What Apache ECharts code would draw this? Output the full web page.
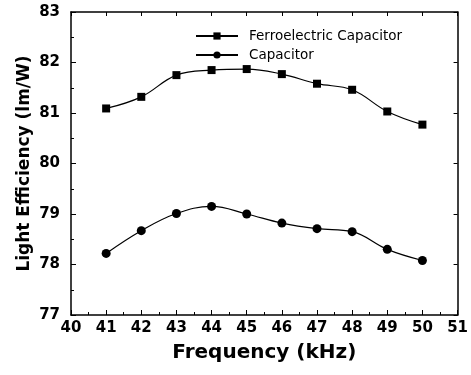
<!DOCTYPE html>
<html><head><meta charset="utf-8">
<script src="https://cdn.jsdelivr.net/npm/echarts@6/dist/echarts.min.js"></script>
<style>html,body{margin:0;padding:0;background:#fff}#c{width:471px;height:375px}</style>
</head><body><div id="c"></div>
<script>
const frequencies = [41, 42, 43, 44, 45, 46, 47, 48, 49, 50];
const ferroelectric = [81.09, 81.32, 81.75, 81.85, 81.87, 81.77, 81.58, 81.46, 81.03, 80.77];
const capacitor = [78.22, 78.67, 79.01, 79.15, 79.00, 78.82, 78.71, 78.65, 78.30, 78.08];
const seriesNames = ['Ferroelectric Capacitor', 'Capacitor'];

const F = 'DejaVu Sans';
const chart = echarts.init(document.getElementById('c'));
const axLine = {show: true, lineStyle: {color: '#000', width: 1.5}};
chart.setOption({
  animation: false,
  backgroundColor: '#fff',
  grid: {left: 71, right: 9, top: 12, bottom: 60},
  legend: {
    orient: 'vertical', left: 190, top: 24, itemWidth: 42, itemHeight: 9, itemGap: 5,
    textStyle: {fontFamily: F, fontSize: 13.5, color: '#000', padding: [0, 0, 0, 6]},
    data: seriesNames
  },
  xAxis: [{
    type: 'value', min: 40, max: 51, interval: 1,
    name: 'Frequency (kHz)', nameLocation: 'middle', nameGap: 28, nameMoveOverlap: false,
    nameTextStyle: {fontFamily: F, fontWeight: 'bold', fontSize: 20, color: '#000'},
    axisLine: axLine,
    axisTick: {inside: true, length: 5, lineStyle: {color: '#000', width: 1}},
    minorTick: {show: true, splitNumber: 2, length: 3, lineStyle: {color: '#000'}},
    axisLabel: {fontFamily: F, fontWeight: 'bold', fontSize: 15, color: '#000', margin: 6},
    splitLine: {show: false}
  }, {
    type: 'value', min: 40, max: 51, interval: 1, position: 'top',
    axisLine: axLine, axisTick: {inside: true, length: 4, lineStyle: {color: '#000'}},
    axisLabel: {show: false}, splitLine: {show: false}
  }],
  yAxis: [{
    type: 'value', min: 77, max: 83, interval: 1,
    name: 'Light Efficiency (lm/W)', nameLocation: 'middle', nameGap: 38, nameMoveOverlap: false,
    nameTextStyle: {fontFamily: F, fontWeight: 'bold', fontSize: 17, color: '#000'},
    axisLine: axLine,
    axisTick: {inside: true, length: 5, lineStyle: {color: '#000', width: 1}},
    minorTick: {show: true, splitNumber: 2, length: 3, lineStyle: {color: '#000'}},
    axisLabel: {fontFamily: F, fontWeight: 'bold', fontSize: 15, color: '#000', margin: 11},
    splitLine: {show: false}
  }, {
    type: 'value', min: 77, max: 83, interval: 1, position: 'right',
    axisLine: axLine, axisTick: {inside: true, length: 4, lineStyle: {color: '#000'}},
    axisLabel: {show: false}, splitLine: {show: false}
  }],
  series: [{
    name: seriesNames[0], type: 'line', smooth: 0.4,
    symbol: 'rect', symbolSize: 8,
    itemStyle: {color: '#000'}, lineStyle: {color: '#000', width: 1.2},
    data: frequencies.map((f, i) => [f, ferroelectric[i]])
  }, {
    name: seriesNames[1], type: 'line', smooth: 0.4,
    symbol: 'circle', symbolSize: 9,
    itemStyle: {color: '#000'}, lineStyle: {color: '#000', width: 1.2},
    data: frequencies.map((f, i) => [f, capacitor[i]])
  }]
});
</script></body></html>
